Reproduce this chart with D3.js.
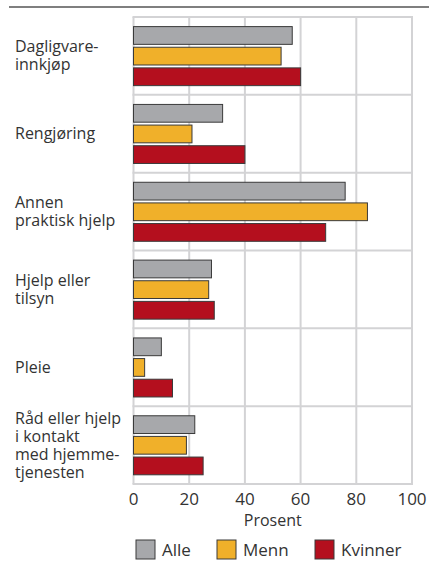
<!DOCTYPE html>
<html>
<head>
<meta charset="utf-8">
<script src="https://cdn.jsdelivr.net/npm/d3@7"></script>
<style>
  body { margin: 0; background: #fff; }
  text { font-family: "Open Sans", "Noto Sans", sans-serif; fill: #333; }
</style>
</head>
<body>
<div id="chart"></div>
<script>
// kategorier (linjer i etiketten)
var categories = [
    ["Dagligvare-", "innkjøp"],
    ["Rengjøring"],
    ["Annen", "praktisk hjelp"],
    ["Hjelp eller", "tilsyn"],
    ["Pleie"],
    ["Råd eller hjelp", "i kontakt", "med hjemme-", "tjenesten"]
];
var seriesNames = ["Alle", "Menn", "Kvinner"];
var alle = [57, 32, 76, 28, 10, 22];
var menn = [53, 21, 84, 27, 4, 19];
var kvinner = [60, 40, 69, 29, 14, 25];
var ticks = [0, 20, 40, 60, 80, 100];
var colors = ["#a7a8ab", "#f0b02a", "#b40f1e"];

var width = 429, height = 562;
var plotLeft = 133.5, plotRight = 412, plotTop = 17, plotBottom = 484;

var svg = d3.select("#chart").append("svg")
    .attr("width", width)
    .attr("height", height);

// topplinje
svg.append("line")
    .attr("x1", 9).attr("x2", width)
    .attr("y1", 7).attr("y2", 7)
    .attr("stroke", "#555")
    .attr("stroke-width", 1.5);

var x = d3.scaleLinear().domain([0, 100]).range([plotLeft, plotRight]);
var y = d3.scaleBand().domain(d3.range(categories.length)).range([plotTop, plotBottom]);
var inner = d3.scaleBand().domain(seriesNames).range([9.6, y.bandwidth() - 9.2]).paddingInner(0.14);

// rutenett
var grid = svg.append("g").attr("stroke", "#d3d3d5").attr("stroke-width", 2);
grid.selectAll(".v").data(ticks).enter().append("line")
    .attr("x1", function(d) { return x(d); })
    .attr("x2", function(d) { return x(d); })
    .attr("y1", plotTop).attr("y2", plotBottom);
grid.selectAll(".h").data(d3.range(categories.length + 1)).enter().append("line")
    .attr("x1", plotLeft - 1).attr("x2", plotRight + 1)
    .attr("y1", function(d) { return plotTop + d * y.step(); })
    .attr("y2", function(d) { return plotTop + d * y.step(); });

// søyler
var data = [alle, menn, kvinner];
var rows = [];
categories.forEach(function(c, i) {
    seriesNames.forEach(function(s, j) {
        rows.push({cat: i, name: s, value: data[j][i], color: colors[j]});
    });
});
svg.append("g").selectAll("rect")
    .data(rows)
    .enter()
    .append("rect")
    .attr("x", x(0))
    .attr("y", function(d) { return y(d.cat) + inner(d.name); })
    .attr("width", function(d) { return x(d.value) - x(0); })
    .attr("height", inner.bandwidth())
    .attr("fill", function(d) { return d.color; })
    .attr("stroke", "#3a3a3a")
    .attr("stroke-width", 1);

// kategorietiketter
var labels = svg.append("g").selectAll("text")
    .data(categories)
    .enter()
    .append("text")
    .attr("font-size", "16px")
    .attr("x", 15);
labels.each(function(lines, i) {
    var cy = y(i) + y.bandwidth() / 2 + 5.5;
    d3.select(this).selectAll("tspan")
        .data(lines)
        .enter()
        .append("tspan")
        .attr("x", 15)
        .attr("y", function(d, k) { return cy + (k - (lines.length - 1) / 2) * 18; })
        .text(function(d) { return d; });
});

// x-akse
svg.append("g").selectAll("text")
    .data(ticks)
    .enter()
    .append("text")
    .attr("x", function(d) { return x(d); })
    .attr("y", 505)
    .attr("font-size", "17px")
    .style("text-anchor", "middle")
    .text(function(d) { return d; });

svg.append("text")
    .attr("x", x(50))
    .attr("y", 526)
    .attr("font-size", "16px")
    .style("text-anchor", "middle")
    .text("Prosent");

// tegnforklaring
var legendX = [136, 217, 315];
var legend = svg.append("g").selectAll("g")
    .data(seriesNames)
    .enter()
    .append("g")
    .attr("transform", function(d, i) { return "translate(" + legendX[i] + ",540)"; });
legend.append("rect")
    .attr("width", 19).attr("height", 19)
    .attr("fill", function(d, i) { return colors[i]; })
    .attr("stroke", "#3a3a3a")
    .attr("stroke-width", 1);
legend.append("text")
    .attr("x", 26)
    .attr("y", 16)
    .attr("font-size", "17px")
    .text(function(d) { return d; });
</script>
</body>
</html>
